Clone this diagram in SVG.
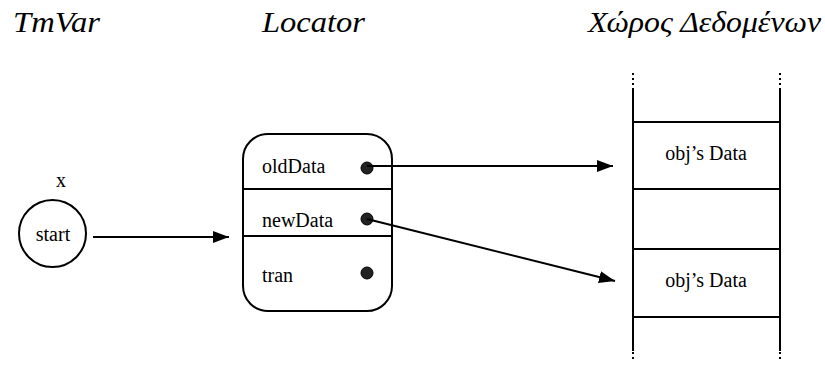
<svg xmlns="http://www.w3.org/2000/svg" width="825" height="365" viewBox="0 0 825 365">
<style>
.title{font-style:italic;font-size:30px;fill:#000}
.lbl{font-size:20px;fill:#000}
.ln{stroke:#000;stroke-width:2;fill:none}
.dot{fill:#222;stroke:#000;stroke-width:1}
.dotted{stroke:#000;stroke-width:2;stroke-dasharray:2 3;fill:none}
</style>
<defs>
<marker id="ah" viewBox="0 0 16 12" refX="16" refY="6" markerWidth="16" markerHeight="12" markerUnits="userSpaceOnUse" orient="auto">
<path d="M0,0 L16,6 L0,12 Z" fill="#000"/>
</marker>
</defs>
<rect width="825" height="365" fill="#fff"/>
<g font-family="Liberation Serif, DejaVu Serif, serif">
<g id="titles">
<text class="title" x="13" y="32" textLength="87" lengthAdjust="spacingAndGlyphs">TmVar</text>
<text class="title" x="262" y="32" textLength="103" lengthAdjust="spacingAndGlyphs">Locator</text>
<text class="title" x="588" y="32" textLength="233" lengthAdjust="spacingAndGlyphs">Χώρος Δεδομένων</text>
</g>
<g id="tmvar">
<text class="lbl" x="61" y="187" text-anchor="middle">x</text>
<circle class="ln" cx="52.5" cy="233.5" r="33.5"/>
<text class="lbl" x="53" y="241" text-anchor="middle">start</text>
</g>
<g id="locator">
<rect class="ln" x="243" y="134" width="149" height="177" rx="25" ry="25"/>
<line class="ln" x1="243" y1="189" x2="392" y2="189"/>
<line class="ln" x1="243" y1="236" x2="392" y2="236"/>
<text class="lbl" x="262" y="173">oldData</text>
<text class="lbl" x="262" y="227">newData</text>
<text class="lbl" x="262" y="282">tran</text>
<circle class="dot" cx="367" cy="168" r="6"/>
<circle class="dot" cx="367" cy="219" r="6"/>
<circle class="dot" cx="367" cy="273" r="6"/>
</g>
<g id="dataspace">
<line class="dotted" x1="633" y1="73" x2="633" y2="90"/>
<line class="dotted" x1="780" y1="73" x2="780" y2="90"/>
<line class="ln" x1="633" y1="90" x2="633" y2="351"/>
<line class="ln" x1="780" y1="90" x2="780" y2="351"/>
<line class="dotted" x1="633" y1="352" x2="633" y2="362"/>
<line class="dotted" x1="780" y1="352" x2="780" y2="362"/>
<g id="obj1">
<rect class="ln" x="633" y="122" width="147" height="67"/>
<text class="lbl" x="706" y="160" text-anchor="middle">obj’s Data</text>
</g>
<g id="obj2">
<rect class="ln" x="633" y="249" width="147" height="68"/>
<text class="lbl" x="706" y="287" text-anchor="middle">obj’s Data</text>
</g>
</g>
</g>
<g id="connectors">
<line class="ln" x1="93" y1="237" x2="229" y2="237" marker-end="url(#ah)"/>
<line class="ln" x1="367" y1="166" x2="613" y2="166" marker-end="url(#ah)"/>
<line class="ln" x1="367" y1="219" x2="615" y2="281" marker-end="url(#ah)"/>
</g>
</svg>
